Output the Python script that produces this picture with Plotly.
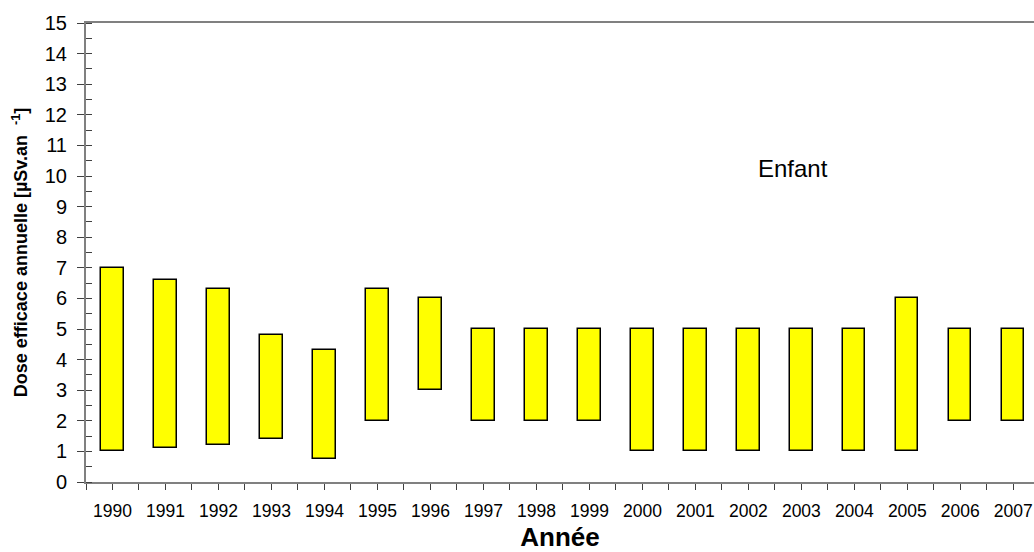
import plotly.graph_objects as go

# Annual effective dose range per year (child), in µSv/an
years = ["1990", "1991", "1992", "1993", "1994", "1995", "1996", "1997", "1998",
         "1999", "2000", "2001", "2002", "2003", "2004", "2005", "2006", "2007"]
dose_min = [1.0, 1.1, 1.2, 1.4, 0.75, 2.0, 3.0, 2.0, 2.0, 2.0, 1.0, 1.0, 1.0, 1.0, 1.0, 1.0, 2.0, 2.0]
dose_max = [7.0, 6.6, 6.3, 4.8, 4.3, 6.3, 6.0, 5.0, 5.0, 5.0, 5.0, 5.0, 5.0, 5.0, 5.0, 6.0, 5.0, 5.0]

idx = list(range(len(years)))
span = [hi - lo for lo, hi in zip(dose_min, dose_max)]

fig = go.Figure()
fig.add_trace(go.Bar(
    x=idx, y=span, base=dose_min, width=0.42,
    marker=dict(color="#FFFF00", line=dict(color="#000000", width=1.5)),
    hoverinfo="skip", showlegend=False,
))

font = "Liberation Sans, Arial, sans-serif"
axis_col = "#808080"

fig.update_layout(
    width=1034, height=552,
    margin=dict(l=86, r=0, t=23, b=70, autoexpand=False),
    paper_bgcolor="white", plot_bgcolor="white",
    font=dict(family=font, color="black"),
    bargap=0,
    xaxis=dict(
        range=[-0.5, 17.39],
        tickmode="array", tickvals=idx, ticktext=years,
        ticks="outside", ticklen=6, tickcolor="#404040", tickwidth=1,
        minor=dict(tickmode="linear", tick0=0.5, dtick=1, ticks="outside",
                   ticklen=6, tickcolor="#404040", tickwidth=1),
        showline=True, linecolor=axis_col, linewidth=2, mirror=True,
        showgrid=False, zeroline=False,
        ticklabelstandoff=6,
        tickfont=dict(size=17.5, family=font),
        title=dict(text="<b>Année</b>", font=dict(size=26, family=font), standoff=13),
    ),
    yaxis=dict(
        range=[0, 15], dtick=1, tick0=0,
        ticks="outside", ticklen=7, tickcolor="#404040", tickwidth=1,
        minor=dict(dtick=0.5, ticks="inside", ticklen=6, tickcolor="#404040", tickwidth=1),
        showline=True, linecolor=axis_col, linewidth=2,
        showgrid=False, zeroline=False,
        ticklabelstandoff=6,
        tickfont=dict(size=20, family=font),
        title=dict(text="<b>Dose efficace annuelle [µSv.an  <sup>-1</sup>]</b>",
                   font=dict(size=18, family=font), standoff=12),
    ),
    annotations=[dict(
        x=12.85, y=10.26, xref="x", yref="y", text="Enfant", showarrow=False,
        font=dict(size=24, family=font, color="black"),
    )],
)

fig.write_html("out.html")
